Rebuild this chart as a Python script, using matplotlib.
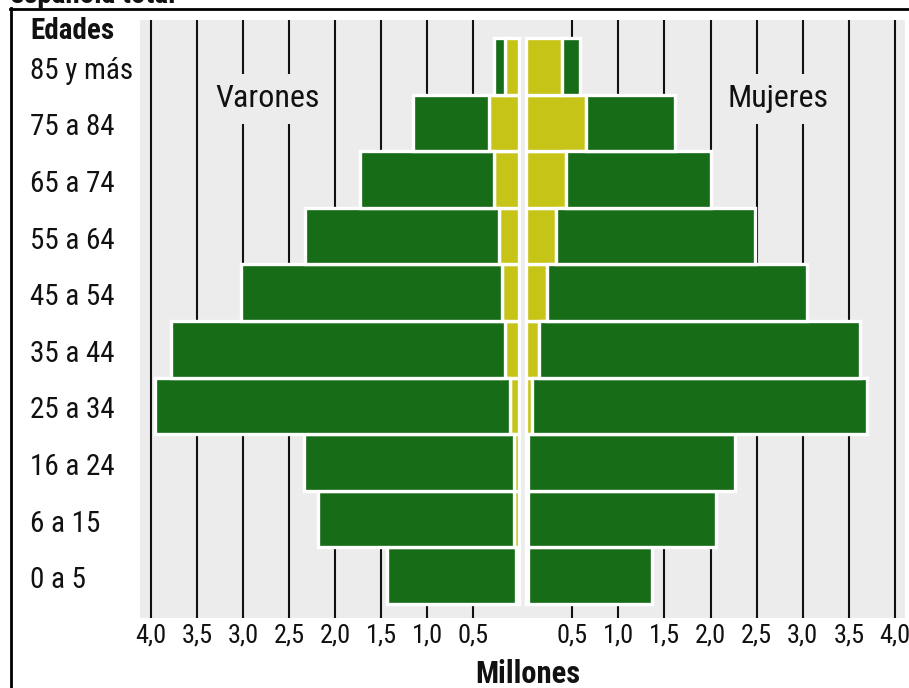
import matplotlib
matplotlib.use("Agg")
import matplotlib.pyplot as plt
from matplotlib.patches import Rectangle
from matplotlib.lines import Line2D
import matplotlib.transforms as mtransforms
from matplotlib import font_manager as fm

# ---- data ----
ages = ['0 a 5', '6 a 15', '16 a 24', '25 a 34', '35 a 44', '45 a 54',
        '55 a 64', '65 a 74', '75 a 84', '85 y más']
varones_total = [1.43, 2.19, 2.34, 3.96, 3.78, 3.02, 2.33, 1.73, 1.15, 0.27]
varones_parte = [0.03, 0.05, 0.05, 0.10, 0.15, 0.18, 0.22, 0.27, 0.33, 0.15]
mujeres_total = [1.37, 2.06, 2.26, 3.70, 3.62, 3.05, 2.48, 2.01, 1.62, 0.59]
mujeres_parte = [0.02, 0.02, 0.02, 0.07, 0.14, 0.225, 0.32, 0.43, 0.655, 0.39]
tick_values = [0.5, 1.0, 1.5, 2.0, 2.5, 3.0, 3.5, 4.0]
tick_labels = ['0,5', '1,0', '1,5', '2,0', '2,5', '3,0', '3,5', '4,0']

# ---- font choice: prefer a condensed sans ----
names = {f.name for f in fm.fontManager.ttflist}
stretch_ok = False
family = None
for cand in ['Roboto Condensed', 'Liberation Sans Narrow', 'Open Sans Condensed',
             'Noto Sans Condensed', 'DejaVu Sans Condensed']:
    if cand in names:
        family = cand
        break
if family is None:
    if any(f.name == 'DejaVu Sans' and 'condensed' in str(f.stretch)
           for f in fm.fontManager.ttflist):
        family = 'DejaVu Sans'
        stretch_ok = True
if family is None:
    family = 'Liberation Sans' if 'Liberation Sans' in names else 'DejaVu Sans'
    k = 0.84
else:
    k = 1.0
plt.rcParams['font.family'] = [family, 'DejaVu Sans']
if stretch_ok:
    plt.rcParams['font.stretch'] = 'condensed'

GREEN = '#166c17'
YELLOW = '#c7c418'
BG = '#ececec'
INK = '#111111'
W, H = 909, 688

fig = plt.figure(figsize=(W / 100, H / 100), dpi=100)

def fx(px):
    return px / W

def fy(py):
    return 1 - py / H

ax_top, ax_bot = 20, 618
axL = fig.add_axes([fx(140), fy(ax_bot), fx(522.5) - fx(140), (ax_bot - ax_top) / H])
axR = fig.add_axes([fx(522.5), fy(ax_bot), fx(905) - fx(522.5), (ax_bot - ax_top) / H])

ypos = list(range(len(ages)))
ylim = (-0.75, 9.82)

for ax, total, parte, side in [(axL, varones_total, varones_parte, 'L'),
                               (axR, mujeres_total, mujeres_parte, 'R')]:
    ax.set_facecolor(BG)
    rest = [t - p for t, p in zip(total, parte)]
    ax.barh(ypos, parte, height=1.0, color=YELLOW, edgecolor='white',
            linewidth=2.4, zorder=2)
    ax.barh(ypos, rest, left=parte, height=1.0, color=GREEN,
            edgecolor='white', linewidth=2.4, zorder=2)
    ax.set_ylim(*ylim)
    if side == 'L':
        ax.set_xlim(4.12, -0.038)
    else:
        ax.set_xlim(-0.038, 4.108)
    ax.set_xticks(tick_values)
    ax.set_xticklabels(tick_labels, fontsize=19 * k, color=INK)
    ax.tick_params(axis='x', length=0, pad=4)
    ax.set_yticks([])
    ax.grid(axis='x', color=INK, linewidth=1.5)
    ax.set_axisbelow(True)
    for s in ax.spines.values():
        s.set_visible(False)
    # label box interrupting gridlines
    ax.add_patch(Rectangle((2.18, 7.98), 1.1, 0.89, facecolor=BG,
                           edgecolor='none', zorder=1))
    ax.text(2.73, 8.43, 'Varones' if side == 'L' else 'Mujeres',
            ha='center', va='center', fontsize=23 * k, color=INK, zorder=3)

# age labels
trans = mtransforms.blended_transform_factory(fig.transFigure, axL.transData)
for y, lab in zip(ypos, ages):
    axL.text(fx(30), y - 0.08, lab, transform=trans, ha='left', va='center',
             fontsize=21 * k, color=INK, clip_on=False)

fig.text(fx(30), fy(31), 'Edades', ha='left', va='center', fontsize=21 * k,
         fontweight='bold', color=INK)
fig.text(fx(528), fy(674), 'Millones', ha='center', va='center', fontsize=22 * k,
         fontweight='bold', color=INK)
fig.text(fx(10), fy(3), 'española total', ha='left', va='baseline',
         fontsize=21 * k, fontweight='bold', color=INK)

# frame
fig.add_artist(Line2D([fx(11), fx(11)], [fy(8), 0], color='black',
                      linewidth=2, transform=fig.transFigure))
fig.add_artist(Line2D([fx(10), 1], [fy(8.5), fy(8.5)], color='black',
                      linewidth=2, transform=fig.transFigure))

fig.savefig('out.png', dpi=100)
